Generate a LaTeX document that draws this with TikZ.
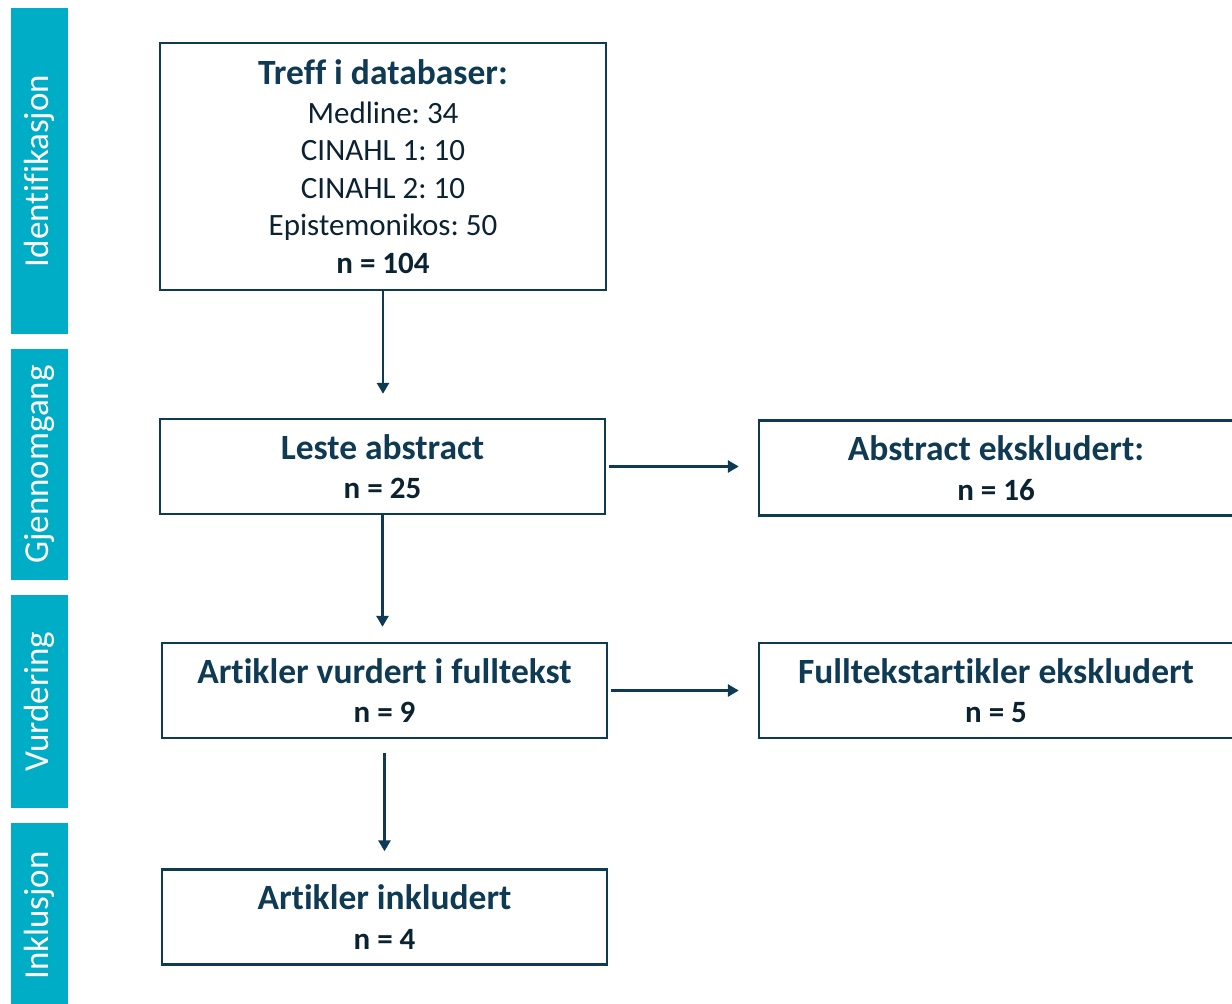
\documentclass[tikz,border=0pt]{standalone}
\usepackage{fontspec}
\setmainfont[Ligatures=NoCommon]{Carlito}
\usetikzlibrary{arrows.meta}
\definecolor{navy}{HTML}{0E3A53}
\definecolor{inkdark}{HTML}{0B2231}
\definecolor{phaseteal}{HTML}{00ADC6}
\newcommand{\boxhead}[1]{{\fontsize{35.5}{42}\selectfont\bfseries\color{navy}#1}}
\frenchspacing
\begin{document}
\begin{tikzpicture}[x=1pt, y=-1pt,
    box/.style={draw=navy, line width=2.4pt, minimum width=446pt, minimum height=95pt,
      inner sep=0pt, align=center, text=inkdark, font=\fontsize{31}{37.5}\selectfont},
    phase/.style={fill=phaseteal, rotate=90, minimum height=57pt, inner sep=0pt,
      text=white, font=\fontsize{35}{40}\selectfont},
    flow/.style={draw=navy, line width=2.8pt, -{Triangle[length=11pt,width=12pt]}}]
    \useasboundingbox (0,0) rectangle (1232,1004);

    % phases on the left
    \node[phase, minimum width=326pt] (ident) at (39.5,171) {Identifikasjon};
    \node[phase, minimum width=231pt] (review) at (39.5,464.5) {Gjennomgang};
    \node[phase, minimum width=213pt] (assess) at (39.5,701.5) {Vurdering};
    \node[phase, minimum width=185pt] (inclus) at (39.5,915.5) {Inklusjon};

    % main column
    \node[box, minimum height=247pt] (hits) at (383,166.5)
        {\boxhead{Treff i databaser:}\\[1pt] Medline: 34\\ CINAHL 1: 10\\ CINAHL 2: 10\\
         Epistemonikos: 50\\ \textbf{n = 104}};
    \node[box, minimum width=445pt] (read) at (382.5,466.5)
        {\boxhead{Leste abstract}\\[2pt] \textbf{n = 25}};
    \node[box, minimum width=445pt] (fulltext) at (384.5,690.5)
        {\boxhead{Artikler vurdert i fulltekst}\\[2pt] \textbf{n = 9}};
    \node[box, minimum width=445pt] (incl) at (384.5,917)
        {\boxhead{Artikler inkludert}\\[2pt] \textbf{n = 4}};

    % excluded
    \node[box, minimum width=474pt] (exabs) at (996,468)
        {\boxhead{Abstract ekskludert:}\\[2pt] \textbf{n = 16}};
    \node[box, minimum width=474pt] (exfull) at (996,690.5)
        {\boxhead{Fulltekstartikler ekskludert}\\[2pt] \textbf{n = 5}};

    % arrows
    \draw[flow, shorten >=24pt] (hits.south) -- (hits.south |- read.north);
    \draw[flow, shorten >=15pt] (read.south) -- (read.south |- fulltext.north);
    \draw[flow, shorten <=14pt, shorten >=17pt] (fulltext.south) -- (fulltext.south |- incl.north);
    \draw[flow, line width=3.6pt, shorten <=3pt, shorten >=19pt] (read.east) -- (read.east -| exabs.west);
    \draw[flow, shorten <=3pt, shorten >=19pt] (fulltext.east) -- (fulltext.east -| exfull.west);
\end{tikzpicture}
\end{document}
